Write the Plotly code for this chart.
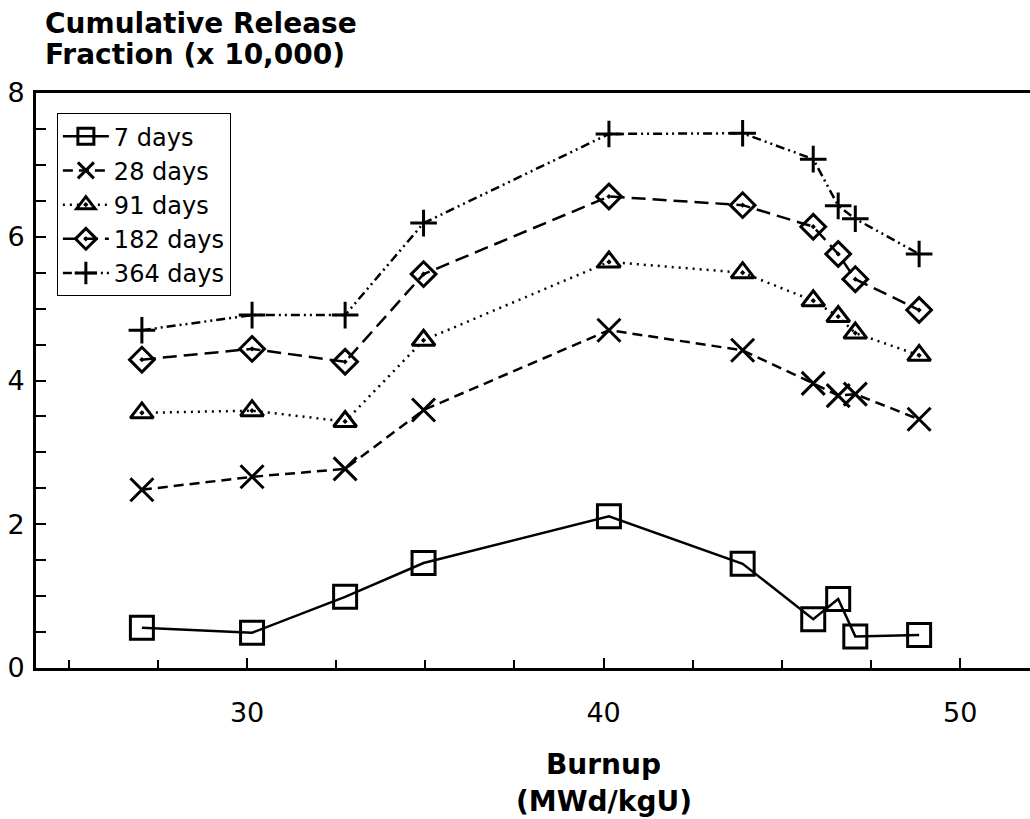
import plotly.graph_objects as go

# Burnup (MWd/kgU)
burnup = [27.05, 30.14, 32.75, 34.95, 40.15, 43.9, 45.88, 46.58, 47.06, 48.85]

# Cumulative release fraction (x 10,000)
d7 = [0.56, 0.49, 0.99, 1.46, 2.11, 1.45, 0.68, 0.96, 0.44, 0.46]
d28 = [2.48, 2.66, 2.77, 3.59, 4.70, 4.42, 3.96, 3.79, 3.81, 3.46]
d91 = [3.55, 3.58, 3.43, 4.56, 5.65, 5.50, 5.11, 4.89, 4.66, 4.35]
d182 = [4.29, 4.44, 4.26, 5.48, 6.56, 6.44, 6.14, 5.76, 5.41, 4.98]
d364 = [4.70, 4.91, 4.91, 6.19, 7.43, 7.44, 7.08, 6.43, 6.25, 5.76]

series_names = ["7 days", "28 days", "91 days", "182 days", "364 days"]
series_vals = [d7, d28, d91, d182, d364]

styles = [
    dict(symbol="square-open", size=23, dash="solid"),
    dict(symbol="x-thin-open", size=23, dash="10px,6px"),
    dict(symbol="triangle-up-open-dot", size=20, dash="2px,5px"),
    dict(symbol="diamond-open-dot", size=19, dash="14px,7px"),
    dict(symbol="cross-thin-open", size=19, dash="9px,4px,2px,4px,2px,4px"),
]

FONT = "DejaVu Sans, Liberation Sans, Arial, sans-serif"

fig = go.Figure()
for name, vals, st in zip(series_names, series_vals, styles):
    fig.add_trace(go.Scatter(
        x=burnup, y=vals, name=name, mode="lines+markers",
        line=dict(color="black", width=2.5, dash=st["dash"]),
        marker=dict(symbol=st["symbol"], size=st["size"], color="black",
                    line=dict(color="black", width=3)),
    ))

fig.update_layout(
    width=1030, height=819,
    margin=dict(l=36, r=0, t=93, b=151),
    paper_bgcolor="white", plot_bgcolor="white",
    font=dict(family=FONT, color="black", size=26),
    showlegend=True,
    legend=dict(
        x=0.021, y=0.965, xanchor="left", yanchor="top",
        bordercolor="black", borderwidth=1, bgcolor="white",
        font=dict(family=FONT, size=24), itemwidth=46, tracegroupgap=0,
    ),
    xaxis=dict(
        range=[24.08, 51.96], showgrid=False, zeroline=False,
        showline=True, linecolor="black", linewidth=3, mirror=True,
        ticks="inside", ticklen=10, tickwidth=2, tickcolor="black",
        tick0=0, dtick=10, ticklabelstandoff=19,
        tickfont=dict(family=FONT, size=27),
        minor=dict(ticks="inside", ticklen=8, tickwidth=2, tickcolor="black", dtick=2.5, tick0=0),
    ),
    yaxis=dict(
        range=[0, 8], showgrid=False, zeroline=False,
        showline=True, linecolor="black", linewidth=3, mirror=False,
        ticks="inside", ticklen=10, tickwidth=2, tickcolor="black",
        tick0=0, dtick=2, ticklabelstandoff=3,
        tickfont=dict(family=FONT, size=27),
        minor=dict(ticks="inside", ticklen=10, tickwidth=2, tickcolor="black", dtick=0.5, tick0=0),
    ),
    annotations=[
        dict(text="<b>Cumulative Release</b>",
             xref="paper", yref="paper", x=(43 - 36) / 994, y=(668 - 23) / 575,
             xanchor="left", yanchor="middle", align="left", showarrow=False,
             font=dict(family=FONT, size=28, color="black")),
        dict(text="<b>Fraction (x 10,000)</b>",
             xref="paper", yref="paper", x=(43 - 36) / 994, y=(668 - 54) / 575,
             xanchor="left", yanchor="middle", align="left", showarrow=False,
             font=dict(family=FONT, size=28, color="black")),
        dict(text="<b>Burnup</b>",
             xref="x", yref="paper", x=40, y=(668 - 764) / 575,
             xanchor="center", yanchor="middle", showarrow=False,
             font=dict(family=FONT, size=28, color="black")),
        dict(text="<b>(MWd/kgU)</b>",
             xref="x", yref="paper", x=40, y=(668 - 801) / 575,
             xanchor="center", yanchor="middle", showarrow=False,
             font=dict(family=FONT, size=28, color="black")),
    ],
)

fig.write_html("out.html")
